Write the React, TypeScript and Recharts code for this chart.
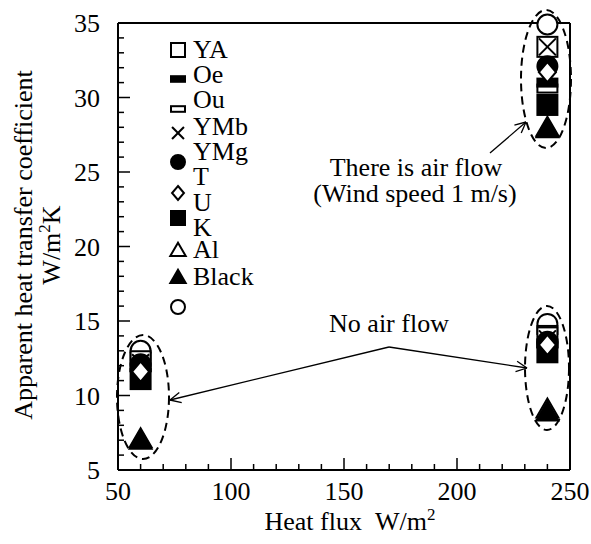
import React from 'react';
import { ScatterChart, Scatter, XAxis, YAxis } from 'recharts';

const FONT = "'Liberation Serif', serif";

// x positions of the three measurement groups
const xValues = [60, 240, 240];
// apparent heat transfer coefficient: [no flow @60, no flow @240, air flow @240]
const YA = [12.3, 13.9, 33.4];
const Oe = [11.9, 13.5, 31.0];
const Ou = [12.6, 14.4, 30.6];
const YMb = [12.2, 13.8, 33.4];
const YMg = [12.1, 13.6, 32.1];
const T = [11.6, 13.4, 31.7];
const U = [11.1, 12.9, 29.5];
const K = [7.1, 9.1, 28.0];
const Al = [7.0, 8.9, 27.9];
const Black = [13.0, 14.8, 34.9];

const legendLabels = ['YA', 'Oe', 'Ou', 'YMb', 'YMg', 'T', 'U', 'K', 'Al', 'Black'];
const legendKinds = ['oSquare', 'fBar', 'oBar', 'cross', 'fCircle', 'oDiamond', 'fSquare', 'oTri', 'fTri', 'oCircle'];

const xMajor = [50, 100, 150, 200, 250];
const xTicksAll = [50, 60, 70, 80, 90, 100, 110, 120, 130, 140, 150, 160, 170, 180, 190, 200, 210, 220, 230, 240, 250];
const yMajor = [5, 10, 15, 20, 25, 30, 35];
const yTicksAll = [5, 6, 7, 8, 9, 10, 11, 12, 13, 14, 15, 16, 17, 18, 19, 20, 21, 22, 23, 24, 25, 26, 27, 28, 29, 30, 31, 32, 33, 34, 35];

const toPoints = (vals: number[]) => xValues.map((x, i) => ({ x, y: vals[i] }));

function marker(kind: string, cx: number, cy: number, s: number) {
  const sw = 2;
  switch (kind) {
    case 'oSquare':
      return <rect x={cx - s} y={cy - s} width={2 * s} height={2 * s} fill="#fff" stroke="#000" strokeWidth={sw} />;
    case 'fSquare':
      return <rect x={cx - s} y={cy - s} width={2 * s} height={2 * s} fill="#000" stroke="#000" strokeWidth={sw} />;
    case 'fBar':
      return <rect x={cx - s} y={cy - s * 0.4} width={2 * s} height={s * 0.8} fill="#000" stroke="#000" strokeWidth={sw} />;
    case 'oBar':
      return <rect x={cx - s} y={cy - s * 0.4} width={2 * s} height={s * 0.8} fill="#fff" stroke="#000" strokeWidth={sw} />;
    case 'cross':
      return (
        <g stroke="#000" strokeWidth={sw}>
          <line x1={cx - s * 0.85} y1={cy - s * 0.85} x2={cx + s * 0.85} y2={cy + s * 0.85} />
          <line x1={cx - s * 0.85} y1={cy + s * 0.85} x2={cx + s * 0.85} y2={cy - s * 0.85} />
        </g>
      );
    case 'fCircle':
      return <circle cx={cx} cy={cy} r={s} fill="#000" stroke="#000" strokeWidth={sw} />;
    case 'oCircle':
      return <circle cx={cx} cy={cy} r={s} fill="#fff" stroke="#000" strokeWidth={sw} />;
    case 'oDiamond':
      return (
        <polygon
          points={`${cx},${cy - s} ${cx + s * 0.85},${cy} ${cx},${cy + s} ${cx - s * 0.85},${cy}`}
          fill="#fff"
          stroke="#000"
          strokeWidth={sw}
        />
      );
    case 'oTri':
      return (
        <polygon
          points={`${cx},${cy - s * 1.05} ${cx + s * 1.1},${cy + s * 0.85} ${cx - s * 1.1},${cy + s * 0.85}`}
          fill="#fff"
          stroke="#000"
          strokeWidth={sw}
        />
      );
    case 'fTri':
      return (
        <polygon
          points={`${cx},${cy - s * 1.05} ${cx + s * 1.1},${cy + s * 0.85} ${cx - s * 1.1},${cy + s * 0.85}`}
          fill="#000"
          stroke="#000"
          strokeWidth={sw}
        />
      );
    default:
      return null;
  }
}

const shapeOf = (kind: string) => (props: any) => {
  const { cx, cy } = props;
  if (cx == null || cy == null) return <g />;
  return <g>{marker(kind, cx, cy, 10)}</g>;
};

// draw order: open symbols first, filled next, diamond last
const seriesList = [
  { name: 'Black', data: Black, kind: 'oCircle' },
  { name: 'Ou', data: Ou, kind: 'oBar' },
  { name: 'YA', data: YA, kind: 'oSquare' },
  { name: 'K', data: K, kind: 'oTri' },
  { name: 'YMb', data: YMb, kind: 'cross' },
  { name: 'Oe', data: Oe, kind: 'fBar' },
  { name: 'U', data: U, kind: 'fSquare' },
  { name: 'YMg', data: YMg, kind: 'fCircle' },
  { name: 'Al', data: Al, kind: 'fTri' },
  { name: 'T', data: T, kind: 'oDiamond' },
];

const txt = { fontFamily: FONT, fontSize: 26, fill: '#000' };

const BottomTick = (props: any) => {
  const { x, y, payload } = props;
  const major = xMajor.includes(payload.value);
  return (
    <g>
      <line x1={x} y1={y} x2={x} y2={y - (major ? 12 : 6)} stroke="#000" strokeWidth={1.5} />
      {major && (
        <text x={x} y={y + 30} textAnchor="middle" fontFamily={FONT} style={txt}>
          {payload.value}
        </text>
      )}
    </g>
  );
};
const TopTick = (props: any) => {
  const { x, y, payload } = props;
  const major = xMajor.includes(payload.value);
  return <line x1={x} y1={y} x2={x} y2={y + (major ? 12 : 6)} stroke="#000" strokeWidth={1.5} />;
};
const LeftTick = (props: any) => {
  const { x, y, payload } = props;
  const major = yMajor.includes(payload.value);
  return (
    <g>
      <line x1={x} y1={y} x2={x + (major ? 12 : 6)} y2={y} stroke="#000" strokeWidth={1.5} />
      {major && (
        <text x={x - 18} y={y + 9} textAnchor="end" fontFamily={FONT} style={txt}>
          {payload.value}
        </text>
      )}
    </g>
  );
};
const RightTick = (props: any) => {
  const { x, y, payload } = props;
  const major = yMajor.includes(payload.value);
  return <line x1={x} y1={y} x2={x - (major ? 12 : 6)} y2={y} stroke="#000" strokeWidth={1.5} />;
};

function Arrow({ x1, y1, x2, y2 }: { x1: number; y1: number; x2: number; y2: number }) {
  const a = Math.atan2(y2 - y1, x2 - x1);
  const L = 12;
  const d = 0.45;
  return (
    <g stroke="#000" strokeWidth={1.3} fill="none">
      <line x1={x1} y1={y1} x2={x2} y2={y2} />
      <line x1={x2} y1={y2} x2={x2 - L * Math.cos(a - d)} y2={y2 - L * Math.sin(a - d)} />
      <line x1={x2} y1={y2} x2={x2 - L * Math.cos(a + d)} y2={y2 - L * Math.sin(a + d)} />
    </g>
  );
}

const legendMarkerY = [50, 79, 109, 133, 162, 193, 218, 250, 277, 307];
const legendTextY = [58, 83, 108, 135, 160, 185, 211, 236, 258, 285];

export default function App() {
  const axisLine = { stroke: '#000', strokeWidth: 2 };
  return (
    <div
      style={{ position: 'absolute', left: 0, top: 0, width: 591, height: 544, background: '#fff', fontFamily: FONT }}
    >
      <style>{"svg text, svg tspan { font-family: 'Liberation Serif', serif !important; }"}</style>
      <ScatterChart width={591} height={544} margin={{ top: 22, right: 20, bottom: 0, left: 0 }}>
        <XAxis
          xAxisId="b"
          type="number"
          dataKey="x"
          orientation="bottom"
          domain={[50, 250]}
          ticks={xTicksAll}
          interval={0}
          height={74}
          tickSize={0}
          tickMargin={0}
          axisLine={axisLine}
          tickLine={false}
          tick={<BottomTick />}
        />
        <XAxis
          xAxisId="t"
          type="number"
          dataKey="x"
          orientation="top"
          domain={[50, 250]}
          ticks={xTicksAll}
          interval={0}
          height={1}
          tickSize={0}
          tickMargin={0}
          axisLine={axisLine}
          tickLine={false}
          tick={<TopTick />}
        />
        <YAxis
          yAxisId="l"
          type="number"
          dataKey="y"
          orientation="left"
          domain={[5, 35]}
          ticks={yTicksAll}
          interval={0}
          width={118}
          tickSize={0}
          tickMargin={0}
          axisLine={axisLine}
          tickLine={false}
          tick={<LeftTick />}
        />
        <YAxis
          yAxisId="r"
          type="number"
          dataKey="y"
          orientation="right"
          domain={[5, 35]}
          ticks={yTicksAll}
          interval={0}
          width={1}
          tickSize={0}
          tickMargin={0}
          axisLine={axisLine}
          tickLine={false}
          tick={<RightTick />}
        />
        {seriesList.map((s) => (
          <Scatter
            key={s.name}
            name={s.name}
            xAxisId="b"
            yAxisId="l"
            data={toPoints(s.data)}
            shape={shapeOf(s.kind)}
            isAnimationActive={false}
          />
        ))}
      </ScatterChart>
      <svg
        width={591}
        height={544}
        style={{ position: 'absolute', left: 0, top: 0, pointerEvents: 'none', fontFamily: FONT }}
      >
        {/* legend */}
        {legendKinds.map((k, i) => (
          <g key={k}>{marker(k, 178, legendMarkerY[i], 7)}</g>
        ))}
        {legendLabels.map((l, i) => (
          <text key={l} x={193} y={legendTextY[i]} fontFamily={FONT} style={txt}>
            {l}
          </text>
        ))}
        {/* annotations */}
        <g fill="none" stroke="#000" strokeWidth={2} strokeDasharray="8 5">
          <ellipse cx={546} cy={79} rx={25} ry={69} />
          <ellipse cx={547} cy={368} rx={22} ry={62} />
          <ellipse cx={143} cy={397} rx={26} ry={62} />
        </g>
        <text x={416} y={176} textAnchor="middle" fontFamily={FONT} style={txt}>
          There is air flow
        </text>
        <text x={415} y={202} textAnchor="middle" fontFamily={FONT} style={txt}>
          (Wind speed 1 m/s)
        </text>
        <Arrow x1={490} y1={153} x2={526} y2={122} />
        <text x={389} y={332} textAnchor="middle" fontFamily={FONT} style={txt}>
          No air flow
        </text>
        <Arrow x1={389} y1={347} x2={527} y2={368} />
        <Arrow x1={389} y1={347} x2={170} y2={400} />
        {/* axis titles */}
        <text x={32} y={245} transform="rotate(-90 32 245)" textAnchor="middle" fontFamily={FONT} style={txt}>
          Apparent heat transfer coefficient
        </text>
        <text x={60} y={245} transform="rotate(-90 60 245)" textAnchor="middle" fontFamily={FONT} style={txt}>
          <tspan>W/m</tspan>
          <tspan dy={-10} fontSize={17}>2</tspan>
          <tspan dy={10}>K</tspan>
        </text>
        <text x={350} y={530} textAnchor="middle" fontFamily={FONT} style={txt}>
          <tspan>{'Heat flux\u00a0\u00a0W/m'}</tspan>
          <tspan dy={-10} fontSize={17}>2</tspan>
        </text>
      </svg>
    </div>
  );
}
